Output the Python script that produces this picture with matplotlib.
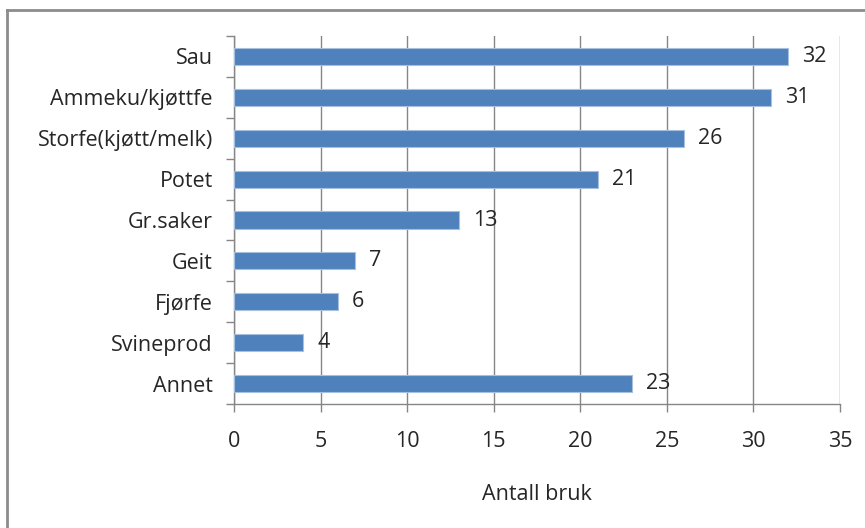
import matplotlib
matplotlib.use("Agg")
import matplotlib.pyplot as plt
from matplotlib.lines import Line2D

categories = ["Sau", "Ammeku/kjøttfe", "Storfe(kjøtt/melk)", "Potet", "Gr.saker",
              "Geit", "Fjørfe", "Svineprod", "Annet"]
values = [32, 31, 26, 21, 13, 7, 6, 4, 23]
xticks = [0, 5, 10, 15, 20, 25, 30, 35]
xlabel = "Antall bruk"

plt.rcParams['font.family'] = ['Open Sans', 'DejaVu Sans']
FS = 15.5
TXT = "#262626"
W, H = 865, 528
fig = plt.figure(figsize=(W / 100, H / 100), dpi=100)
ax = fig.add_axes([234 / W, 1 - 404 / H, (840 - 234) / W, (404 - 36) / H])

n = len(categories)
ypos = list(range(n))
ax.barh(ypos, values, height=0.42, color="#4F81BD", edgecolor="#A7C0DE", linewidth=0.8, zorder=3)
ax.set_ylim(n - 0.5, -0.5)
ax.set_xlim(0, 35)
ax.set_xticks(xticks)
ax.set_xticklabels([str(t) for t in xticks], fontsize=FS, color=TXT)
ax.set_yticks(ypos)
ax.set_yticklabels(categories, fontsize=FS, color=TXT)
ax.tick_params(axis='y', length=0, pad=21 * 72 / 100)
ax.tick_params(axis='x', length=8 * 72 / 100, width=1, color="#868686", pad=19 * 72 / 100)

# category separator ticks on y axis
ax.set_yticks([i - 0.5 for i in range(n + 1)], minor=True)
ax.tick_params(axis='y', which='minor', length=8 * 72 / 100, width=1, color="#868686")

ax.grid(axis='x', color="#868686", linewidth=1, zorder=0)
for s in ["top", "right"]:
    ax.spines[s].set_visible(False)
for s in ["left", "bottom"]:
    ax.spines[s].set_color("#868686")
    ax.spines[s].set_linewidth(1)

for y, v in zip(ypos, values):
    ax.annotate(str(v), xy=(v, y), xytext=(14 * 72 / 100, 0), textcoords='offset points',
                ha='left', va='center', fontsize=FS, color=TXT, zorder=4)

ax.set_xlabel(xlabel, fontsize=FS, color=TXT, labelpad=23)

# outer chart border (left and top)
fig.add_artist(Line2D([7.5 / W, 7.5 / W], [0, 1 - 10 / H], transform=fig.transFigure,
                      color="#8C8C8C", linewidth=2))
fig.add_artist(Line2D([6.5 / W, 1], [1 - 10 / H, 1 - 10 / H], transform=fig.transFigure,
                      color="#8C8C8C", linewidth=2))

fig.savefig("out.png", dpi=100)
